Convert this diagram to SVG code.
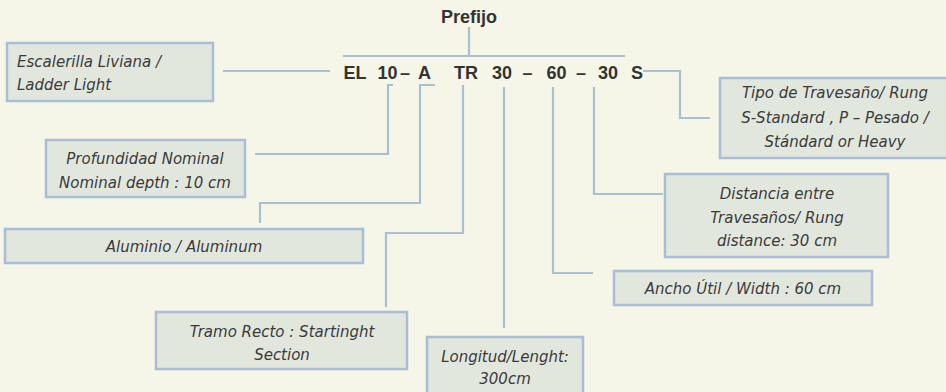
<svg xmlns="http://www.w3.org/2000/svg" width="946" height="392" viewBox="0 0 946 392">
<style>
.bg{fill:#f5f6e7}
.box{fill:#e2e7de;stroke:#a9bdd6;stroke-width:2.5}
.lbl{font-family:"DejaVu Sans",sans-serif;font-style:italic;font-size:15px;fill:#3a3a3a;text-anchor:middle}
.code{font-family:"Liberation Sans",Arial,sans-serif;font-weight:bold;font-size:18px;fill:#333333;text-anchor:middle}
.con{fill:none;stroke:#a9c0d2;stroke-width:2.2}
</style>
<rect class="bg" x="0" y="0" width="946" height="392"/>

<g id="prefix">
<text class="code" x="469" y="23">Prefijo</text>
</g>

<g id="code">
<text class="code" y="79"><tspan x="355">EL</tspan><tspan x="387.5">10</tspan><tspan x="405">–</tspan><tspan x="424.5">A</tspan><tspan x="466">TR</tspan><tspan x="502">30</tspan><tspan x="527.5">–</tspan><tspan x="556.5">60</tspan><tspan x="581">–</tspan><tspan x="608">30</tspan><tspan x="637">S</tspan></text>
</g>

<g id="connectors">
<path class="con" d="M469 27 V56 M343 56 H625"/>
<path class="con" d="M223 71 H330"/>
<path class="con" d="M255 154 H388 V85 H393"/>
<path class="con" d="M435 85 H420 V203 H260 V223"/>
<path class="con" d="M463 85 V233 H386 V307"/>
<path class="con" d="M504 87 V328"/>
<path class="con" d="M553 87 V273 H593"/>
<path class="con" d="M594 87 V194 H663"/>
<path class="con" d="M643 71 H680 V118 H710"/>
</g>

<g id="n-escalerilla">
<rect class="box" x="7" y="43" width="206" height="58"/>
<text class="lbl" style="text-anchor:start" x="17" y="67">Escalerilla Liviana /</text>
<text class="lbl" style="text-anchor:start" x="17" y="90">Ladder Light</text>
</g>

<g id="n-profundidad">
<rect class="box" x="46" y="140" width="199" height="57"/>
<text class="lbl" x="145" y="164">Profundidad Nominal</text>
<text class="lbl" x="145" y="188">Nominal depth : 10 cm</text>
</g>

<g id="n-aluminio">
<rect class="box" x="5" y="229" width="358" height="34"/>
<text class="lbl" x="184" y="252">Aluminio / Aluminum</text>
</g>

<g id="n-tramo">
<rect class="box" x="156" y="312" width="251" height="57"/>
<text class="lbl" x="282" y="337">Tramo Recto : Startinght</text>
<text class="lbl" x="282" y="360">Section</text>
</g>

<g id="n-longitud">
<rect class="box" x="427" y="337" width="156" height="70"/>
<text class="lbl" x="505" y="362">Longitud/Lenght:</text>
<text class="lbl" x="505" y="384">300cm</text>
</g>

<g id="n-ancho">
<rect class="box" x="614" y="271" width="258" height="34"/>
<text class="lbl" x="743" y="294">Ancho Útil / Width : 60 cm</text>
</g>

<g id="n-distancia">
<rect class="box" x="665" y="174" width="223" height="83"/>
<text class="lbl" x="777" y="199">Distancia entre</text>
<text class="lbl" x="777" y="223">Travesaños/ Rung</text>
<text class="lbl" x="777" y="246">distance: 30 cm</text>
</g>

<g id="n-tipo">
<rect class="box" x="720" y="78" width="240" height="80"/>
<text class="lbl" x="835" y="98">Tipo de Travesaño/ Rung</text>
<text class="lbl" x="835" y="123">S-Standard , P – Pesado /</text>
<text class="lbl" x="835" y="147">Stándard  or Heavy</text>
</g>
</svg>
